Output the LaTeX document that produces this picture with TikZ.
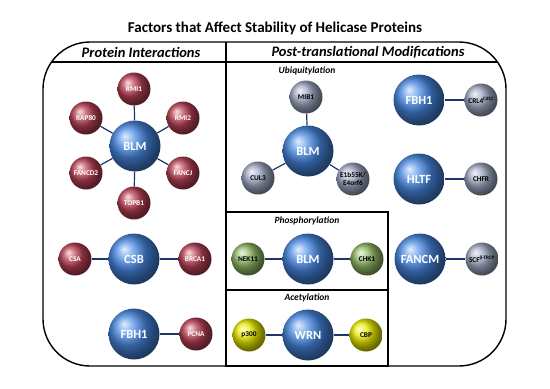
\documentclass[tikz,border=0pt]{standalone}
\usepackage{fontspec}
\setmainfont{Carlito}
\usepackage{tikz}
\definecolor{blueball}{RGB}{70,135,225}
\definecolor{redball}{RGB}{185,65,85}
\definecolor{greyball}{RGB}{160,170,195}
\definecolor{greenball}{RGB}{145,185,100}
\definecolor{yellowball}{RGB}{235,235,0}
\definecolor{linkcol}{RGB}{30,50,110}
\newcommand{\fsz}[1]{\fontsize{#1}{#1}\selectfont}

\begin{document}
\begin{tikzpicture}[
    x=1pt,
    y=-1pt,
    font=\bfseries,
    frame/.style={
        draw,
        line width=1.4pt
    },
    hub/.style={
        circle,
        minimum size=51,
        inner sep=0pt,
        ball color=blueball,
        text=white,
        font=\fsz{12.5}\bfseries
    },
    partner/.style={
        circle,
        minimum size=33,
        inner sep=0pt,
        align=center,
        font=\fsz{7.3}\bfseries
    },
    redp/.style={partner, ball color=redball, text=white},
    greyp/.style={partner, ball color=greyball, text=black},
    greenp/.style={partner, ball color=greenball, text=black},
    yellowp/.style={partner, ball color=yellowball, text=black},
    link/.style={
        draw=linkcol,
        line width=1.2pt
    },
    header/.style={
        font=\fsz{14.5}\bfseries\itshape
    },
    sublabel/.style={
        font=\fsz{9.5}\bfseries\itshape
    }
]
\useasboundingbox (0,0) rectangle (550,389);

\node[font=\fsz{15}\bfseries] (title) at (275,28)
{Factors that Affect Stability of Helicase Proteins};

% frame
\draw[frame, rounded corners=47] (43,42) rectangle (506,366);
\begin{scope}
\clip[rounded corners=47] (43,42) rectangle (506,366);
\draw[frame] (43,62) -- (506,62);
\end{scope}
\draw[frame] (226,42) -- (226,366);
\draw[frame] (226,212) rectangle (388,366);
\draw[frame] (226,290) -- (388,290);

\node[header] (hdrPI) at (141,52) {Protein Interactions};
\node[header] (hdrPTM) at (368,52) {Post-translational Modifications};
\node[sublabel] (ubq) at (307,71) {Ubiquitylation};
\node[sublabel] (phos) at (307,221) {Phosphorylation};
\node[sublabel] (acet) at (307,298) {Acetylation};

% protein interactions
\node[hub] (blm) at (135,146) {BLM};
\node[redp] (rmi1) at (134,89) {RMI1};
\node[redp] (rap80) at (86,118) {RAP80};
\node[redp] (rmi2) at (183,118) {RMI2};
\node[redp] (fancd2) at (86,173) {FANCD2};
\node[redp] (fancj) at (183,173) {FANCJ};
\node[redp] (topb1) at (134,203) {TOPB1};

\node[hub] (csb) at (134,259) {CSB};
\node[redp] (csa) at (75,259) {CSA};
\node[redp] (brca1) at (195,259) {BRCA1};

\node[hub] (fbh1) at (134,334) {FBH1};
\node[redp] (pcna) at (196,334) {PCNA};

\foreach \p in {rmi1,rap80,rmi2,fancd2,fancj,topb1}
    \draw[link] (blm) -- (\p);
\draw[link] (csb) -- (csa);
\draw[link] (csb) -- (brca1);
\draw[link] (fbh1) -- (pcna);

% ubiquitylation
\node[hub] (blmU) at (308,151) {BLM};
\node[greyp] (mib1) at (306,97) {MIB1};
\node[greyp] (cul3) at (258,178) {CUL3};
\node[greyp] (e1b) at (353,179) {E1b55K/\\E4orf6};

\node[hub] (fbh1U) at (419,100) {FBH1};
\node[greyp] (crl4) at (481,100) {CRL4\textsuperscript{Cdt2}};
\node[hub] (hltf) at (419,179) {HLTF};
\node[greyp] (chfr) at (481,179) {CHFR};
\node[hub] (fancm) at (420,259) {FANCM};
\node[greyp] (scf) at (482,259) {SCF\textsuperscript{β-TRCP}};

\draw[link] (blmU) -- (mib1);
\draw[link] (blmU) -- (cul3);
\draw[link] (blmU) -- (e1b);
\draw[link] (fbh1U) -- (crl4);
\draw[link] (hltf) -- (chfr);
\draw[link] (fancm) -- (scf);

% phosphorylation
\node[hub] (blmP) at (308,259) {BLM};
\node[greenp] (nek11) at (248,259) {NEK11};
\node[greenp] (chk1) at (367,259) {CHK1};
\draw[link] (blmP) -- (nek11);
\draw[link] (blmP) -- (chk1);

% acetylation
\node[hub] (wrn) at (308,335) {WRN};
\node[yellowp] (p300) at (249,335) {p300};
\node[yellowp] (cbp) at (366,335) {CBP};
\draw[link] (wrn) -- (p300);
\draw[link] (wrn) -- (cbp);

\end{tikzpicture}
\end{document}
